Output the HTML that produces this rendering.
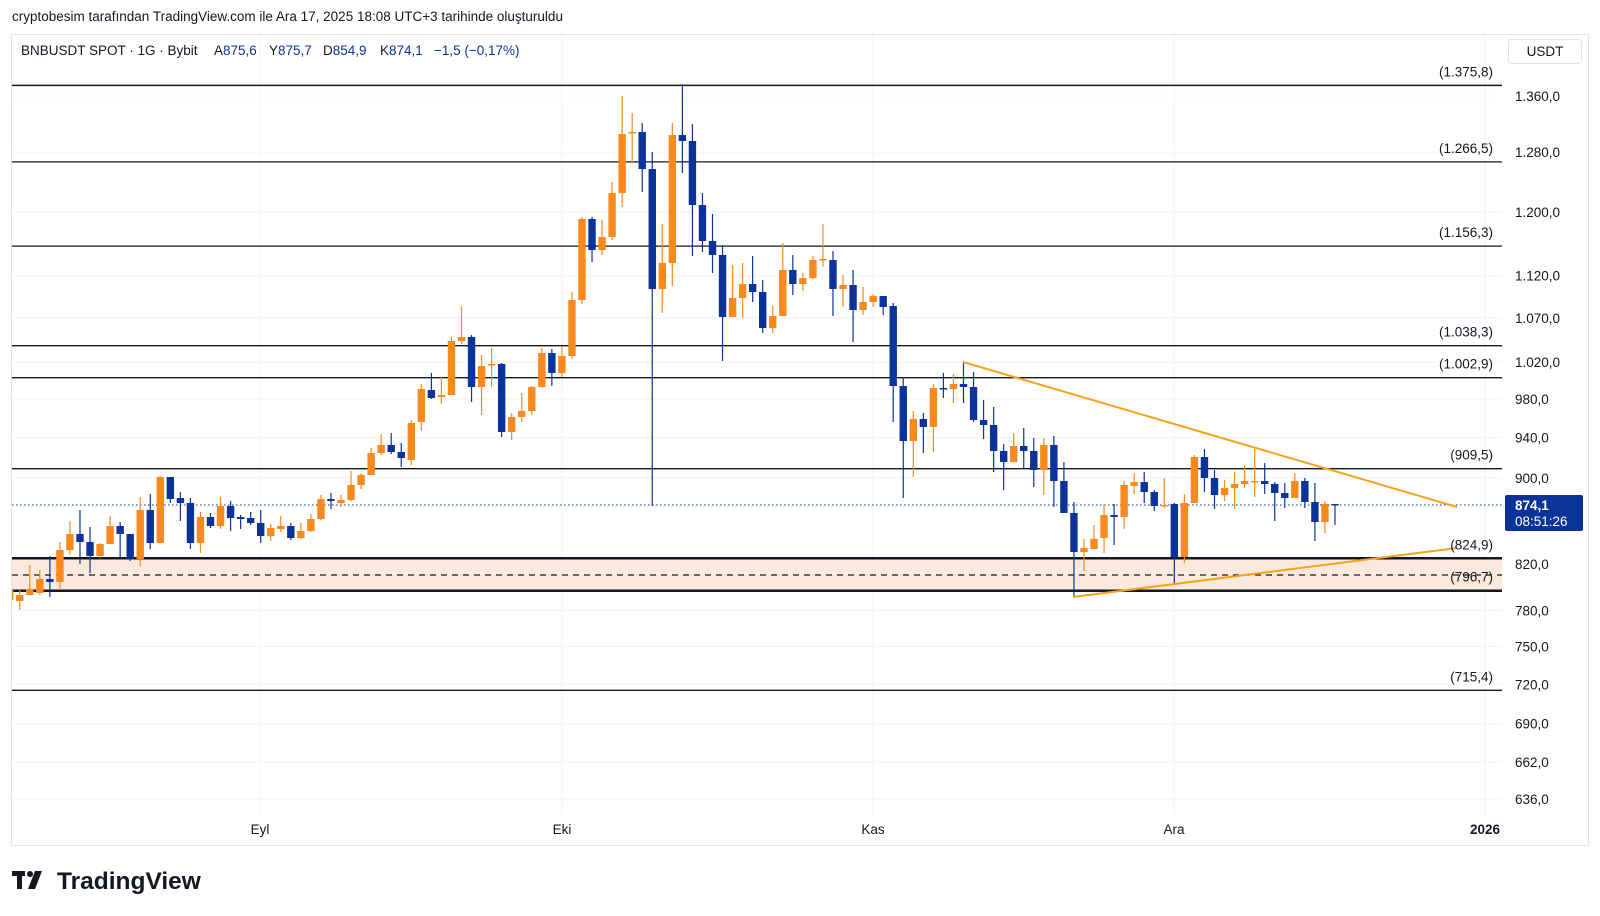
<!DOCTYPE html>
<html><head><meta charset="utf-8">
<style>
html,body{margin:0;padding:0;background:#fff;}
body{width:1600px;height:916px;position:relative;overflow:hidden;font-family:"Liberation Sans",sans-serif;color:#131722;}
.t{position:absolute;white-space:nowrap;}
</style></head>
<body>
<div class="t" style="left:12px;top:9px;font-size:13.5px;">cryptobesim tarafından TradingView.com ile Ara 17, 2025 18:08 UTC+3 tarihinde oluşturuldu</div>
<svg id="c" width="1600" height="916" style="position:absolute;left:0;top:0" xmlns="http://www.w3.org/2000/svg" font-family="Liberation Sans, sans-serif">
<defs><clipPath id="cp"><rect x="12" y="35" width="1490" height="808"/></clipPath></defs>
<rect x="11.5" y="34.5" width="1577" height="811" fill="none" stroke="#e0e3eb"/>
<g id="grid" stroke="#f0f3fa" stroke-width="1"></g>
<rect x="12" y="558" width="1490" height="33" fill="#fce9dd"/>
<g id="hl"></g>
<line x1="12" y1="575" x2="1502" y2="575" stroke="#131722" stroke-width="1.3" stroke-dasharray="6,5"/>
<line x1="12" y1="505" x2="1502" y2="505" stroke="#0b3399" stroke-width="1" stroke-dasharray="1.5,2.5"/>
<g id="cd" clip-path="url(#cp)"></g>
<line x1="963" y1="362" x2="1457" y2="507" stroke="#f7a21b" stroke-width="2"/>
<line x1="1073" y1="597" x2="1457" y2="548" stroke="#f7a21b" stroke-width="2"/>
<g id="lab" font-size="13.5" fill="#131722"></g>
<rect x="1505" y="495" width="78" height="36" rx="2" fill="#0b3399"/>
<text x="1515" y="510" font-size="13.5" fill="#fff" font-weight="bold">874,1</text>
<text x="1515" y="526" font-size="13.5" fill="#fff">08:51:26</text>
<rect x="1508.5" y="39.5" width="73" height="24" rx="3" fill="#fff" stroke="#e0e3eb"/>
<text x="1545" y="56" font-size="13.5" text-anchor="middle" fill="#131722">USDT</text>
<g font-size="13.5" fill="#131722" text-anchor="middle">
<text x="260" y="834">Eyl</text><text x="562" y="834">Eki</text><text x="873" y="834">Kas</text><text x="1174" y="834">Ara</text><text x="1485" y="834" font-weight="bold">2026</text>
</g>
<text font-size="13.5" y="55"><tspan x="21" fill="#131722">BNBUSDT SPOT · 1G · Bybit</tspan><tspan x="214" fill="#131722">A</tspan><tspan fill="#0b3399">875,6</tspan><tspan x="269" fill="#131722">Y</tspan><tspan fill="#0b3399">875,7</tspan><tspan x="323" fill="#131722">D</tspan><tspan fill="#0b3399">854,9</tspan><tspan x="380" fill="#131722">K</tspan><tspan fill="#0b3399">874,1</tspan><tspan x="434" fill="#0b3399">−1,5 (−0,17%)</tspan></text>
<g fill="#131722">
<rect x="12" y="871" width="13" height="5"/><rect x="17" y="871" width="5" height="18"/>
<circle cx="30" cy="874" r="3"/><polygon points="35,871 42,871 35,889 28,889"/>
</g>
<text x="57" y="889" font-size="24.5" font-weight="bold" fill="#131722">TradingView</text>
</svg>
<script>
var ns="http://www.w3.org/2000/svg";
function el(g,t,a,txt){var e=document.createElementNS(ns,t);for(var k in a)e.setAttribute(k,a[k]);if(txt)e.textContent=txt;document.getElementById(g).appendChild(e);return e;}
function Y(p){return 345.7+(6.9453-Math.log(p))*925;}
var pl=[1360,1280,1200,1120,1070,1020,980,940,900,820,780,750,720,690,662,636];
pl.forEach(function(p){var y=Y(p);el('grid','line',{x1:12,x2:1502,y1:y,y2:y});
var s=p>=1000?(Math.floor(p/1000)+'.'+String(p%1000).padStart(3,'0')+',0'):(p+',0');
el('lab','text',{x:1515,y:y+5},s);});
[260,562,873,1174,1485].forEach(function(x){el('grid','line',{x1:x,x2:x,y1:35,y2:815});});
var lv=[[85.4,'(1.375,8)',1.5],[161.9,'(1.266,5)',1.3],[246.1,'(1.156,3)',1.3],[345.7,'(1.038,3)',1.3],[377.7,'(1.002,9)',1.3],[468.7,'(909,5)',1.3],[558.3,'(824,9)',2.5],[590.7,'(796,7)',2.5],[690.3,'(715,4)',1.3]];
lv.forEach(function(l){el('hl','line',{x1:12,x2:1502,y1:l[0],y2:l[0],stroke:'#131722','stroke-width':l[2]});
el('lab','text',{x:1493,y:l[0]-9,'text-anchor':'end'},l[1]);});
var D="o590,600,585,612;o595,601,590,610;o589,595,565,595;o579,593,570,595;b579,582,556,597;o550,582,542,590;o534,550,521,555;b534,542,510,564;b542,556,527,573;o544,556,543,558;o526,544,516,544;b526,534,522,558;b534,559,534,561;o510,559,497,566;b510,543,494,549;o477,543,476,543;b477,499,477,503;b498,503,492,521;b503,543,498,549;o517,543,512,553;b517,526,513,528;o506,526,497,529;b506,518,501,531;b517,519,515,529;b518,523,512,525;b523,536,510,543;o528,536,524,541;o526,529,516,532;b526,538,523,540;o531,538,523,539;o519,531,514,532;o499,519,495,520;b499,501,493,509;o500,503,495,507;o485,500,471,501;o475,485,473,489;o453,475,448,475;o445,453,434,455;b445,452,433,454;b452,458,443,467;o423,460,420,465;o389,422,384,431;b390,398,373,399;o395,397,377,404;o341,395,337,395;o337,341,306,344;b337,387,335,402;o366,387,355,415;o364,365,348,387;b364,432,363,437;o417,432,413,440;o411,417,393,422;o387,411,386,415;o353,387,348,388;b353,373,349,386;o356,373,347,377;o300,356,292,359;o219,300,217,304;b219,250,217,262;o237,250,220,255;o193,237,182,240;o134,193,96,207;o132,133,113,162;b132,169,123,192;b169,289,152,506;o263,289,224,313;o135,263,123,286;b135,141,84,173;b141,205,124,256;b205,241,193,252;b241,255,214,273;b255,317,245,361;o298,317,265,317;o284,298,263,318;b284,292,256,302;b292,328,280,333;o316,328,306,333;o270,316,243,316;b270,284,255,295;o278,284,273,291;o260,278,256,279;o259,260,224,267;b260,289,251,316;o285,289,275,307;b285,310,270,342;o302,310,287,315;o296,302,294,307;b296,307,296,315;b306,386,303,422;b386,441,377,498;o419,441,411,477;b419,427,413,453;o388,427,384,452;b388,389,373,398;o384,389,374,403;b384,387,362,403;b387,420,372,422;b420,425,400,439;b425,451,407,472;b451,462,444,490;o446,462,433,462;b446,451,428,469;b451,470,438,487;o445,470,438,495;b445,481,436,507;b481,513,462,513;b513,552,502,597;o548,552,539,571;o539,549,525,549;o515,538,504,553;b515,517,504,545;o485,517,481,529;o482,486,473,494;b482,492,472,503;b492,506,490,511;o505,506,478,508;b504,557,503,585;o503,557,494,563;o457,503,455,503;b457,478,449,492;b478,495,470,509;o488,495,480,501;o484,488,472,509;o481,484,465,488;o481,482,449,497;b481,484,463,494;b484,493,482,521;b493,498,483,508;o481,498,473,498;b481,502,478,508;b502,522,483,541;o504,522,501,533;b504,505.5,504,525";
D.split(';').forEach(function(s,i){var c=s[0]=='o'?'#f68a1e':'#0b3399';var v=s.slice(1).split(',').map(Number);
var x=9.7+10.04*i;el('cd','line',{x1:x,x2:x,y1:v[2],y2:v[3],stroke:c,'stroke-width':1.2});
var h=Math.max(v[1]-v[0],1.5);el('cd','rect',{x:x-3.7,y:v[0],width:7.4,height:h,fill:c});});
</script>
</body></html>
